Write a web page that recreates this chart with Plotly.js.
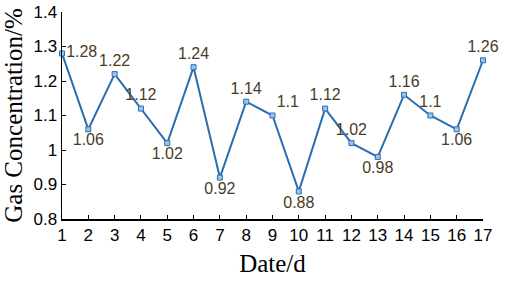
<!DOCTYPE html>
<html><head><meta charset="utf-8">
<script src="https://cdn.plot.ly/plotly-3.0.1.min.js"></script>
<style>html,body{margin:0;padding:0;background:#fff;}#c{width:505px;height:282px;}</style>
</head><body><div id="c"></div>
<script>
const days = [1,2,3,4,5,6,7,8,9,10,11,12,13,14,15,16,17];
const concentration = [1.28,1.06,1.22,1.12,1.02,1.24,0.92,1.14,1.1,0.88,1.12,1.02,0.98,1.16,1.1,1.06,1.26];
const labels = ["1.28","1.06","1.22","1.12","1.02","1.24","0.92","1.14","1.1","0.88","1.12","1.02","0.98","1.16","1.1","1.06","1.26"];
const labelPos = ["middle right","bottom center","top center","top center","bottom center","top center","bottom center","top center","top right","bottom center","top center","top center","bottom center","top center","top center","bottom center","top center"];
const yTicks = [0.8,0.9,1,1.1,1.2,1.3,1.4];
const yTickText = ["0.8","0.9","1","1.1","1.2","1.3","1.4"];

const narrow = "Liberation Sans Narrow, Arial Narrow, sans-serif";
const serif = "Liberation Serif, Times New Roman, serif";
Plotly.newPlot('c', [{
  x: days, y: concentration, type: 'scatter', mode: 'lines+markers+text',
  text: labels, textposition: labelPos,
  textfont: {family: narrow, size: 16, color: '#4a3b26'},
  line: {color: '#2a6eb0', width: 2},
  marker: {symbol: 'square', size: 5, color: '#9cc3e6', line: {color: '#2a6eb0', width: 1}},
  cliponaxis: false
}], {
  width: 505, height: 282,
  margin: {l: 62, r: 22, t: 12, b: 63},
  paper_bgcolor: '#fff', plot_bgcolor: '#fff',
  showlegend: false,
  xaxis: {range: [1, 17], tickvals: days, ticks: 'inside', ticklen: 4, tickcolor: '#000',
    showline: true, linecolor: '#000', linewidth: 1.5, showgrid: false, zeroline: false,
    tickfont: {family: narrow, size: 17, color: '#000'},
    title: {text: 'Date/d', font: {family: serif, size: 25, color: '#000'}, standoff: 10}},
  yaxis: {range: [0.8, 1.4], tickvals: yTicks, ticktext: yTickText, ticks: 'inside', ticklen: 4, tickcolor: '#000',
    showline: true, linecolor: '#000', linewidth: 1.5, showgrid: false, zeroline: false,
    tickfont: {family: narrow, size: 17, color: '#000'},
    title: {text: 'Gas Concentration/%', font: {family: serif, size: 25, color: '#000'}, standoff: 4}}
}, {staticPlot: true, displayModeBar: false});
</script></body></html>
